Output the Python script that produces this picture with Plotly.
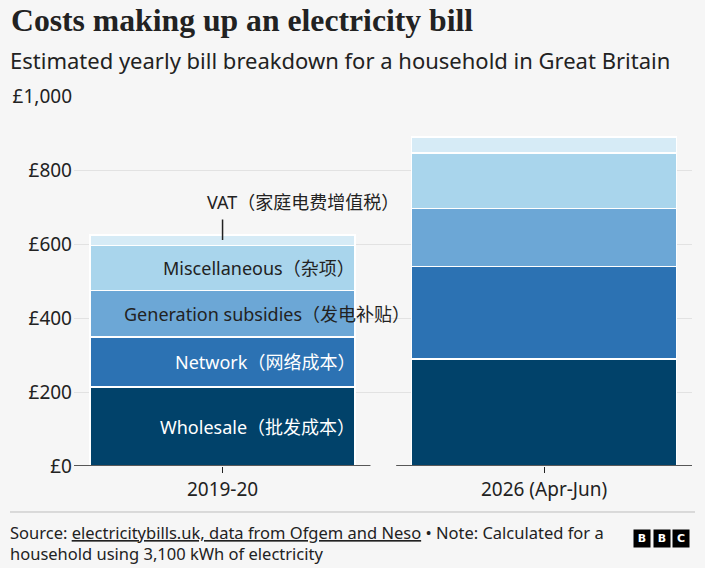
import plotly.graph_objects as go

categories = ["2019-20", "2026 (Apr-Jun)"]
series_names = ["Wholesale", "Network", "Generation subsidies", "Miscellaneous", "VAT"]
wholesale = [213, 289]
network = [135, 250]
generation = [126, 157]
miscellaneous = [122, 150]
vat = [29, 43]
label_texts = ["Wholesale（批发成本）", "Network（网络成本）", "Generation subsidies（发电补贴）",
               "Miscellaneous（杂项）", "VAT（家庭电费增值税）"]
y_tickvals = [0, 200, 400, 600, 800, 1000]
y_ticktext = ["£0", "£200", "£400", "£600", "£800", "£1,000"]

colors = ["#01426a", "#2c72b3", "#6ca7d6", "#a9d5ec", "#d6ebf6"]
SANS = "Noto Sans, Noto Sans CJK SC, sans-serif"
BG = "#f6f6f6"
W, H = 705, 568
ML, MR, MT, MB = 74, 13, 96, 102
PW, PH = W - ML - MR, H - MT - MB


def px(X):
    return (X - ML) / PW


def py(Y):
    return (H - MB - Y) / PH


series = [wholesale, network, generation, miscellaneous, vat]
fig = go.Figure()
for name, vals, col in zip(series_names, series, colors):
    fig.add_trace(go.Bar(x=categories, y=vals, name=name, marker_color=col,
                         marker_line_color="white", marker_line_width=1.5,
                         hoverinfo="skip"))

bargap = 0.176
half = (1 - bargap) / 2
annotations = []
# In-bar labels for first bar
cum = 0
text_colors = ["white", "white", "#222222", "#222222"]
xshifts = [2, 2, 57, 2]
for i in range(4):
    v = series[i][0]
    mid = cum + v / 2
    cum += v
    annotations.append(dict(x=0 + half, y=mid, xref="x", yref="y", text=label_texts[i],
                             showarrow=False, xanchor="right", yanchor="middle",
                             xshift=xshifts[i],
                             font=dict(family=SANS, size=18, color=text_colors[i])))
# VAT callout
vat_mid = cum + vat[0] / 2
annotations.append(dict(x=0, y=vat_mid, xref="x", yref="y", text="", showarrow=True,
                        ax=0, ay=-22, arrowhead=0, arrowwidth=1.5, arrowcolor="#222222",
                        standoff=0, startstandoff=0))
annotations.append(dict(x=0, y=vat_mid, xref="x", yref="y", text=label_texts[4],
                        showarrow=False, xanchor="left", yanchor="middle",
                        xshift=-18, yshift=38,
                        font=dict(family=SANS, size=18, color="#222222")))

# Titles
annotations.append(dict(x=px(9), y=py(20), xref="paper", yref="paper",
                        text="<b>Costs making up an electricity bill</b>", showarrow=False,
                        xanchor="left", yanchor="middle",
                        font=dict(family="Liberation Serif, serif", size=31.7, color="#222222")))
annotations.append(dict(x=px(8), y=py(60), xref="paper", yref="paper",
                        text="Estimated yearly bill breakdown for a household in Great Britain",
                        showarrow=False, xanchor="left", yanchor="middle",
                        font=dict(family=SANS, size=22, color="#222222")))
# Footer
annotations.append(dict(x=px(8), y=py(519), xref="paper", yref="paper",
                        text="Source: <span style='text-decoration:underline'>electricitybills.uk, data from Ofgem and Neso</span> • Note: Calculated for a<br>household using 3,100 kWh of electricity",
                        showarrow=False, xanchor="left", yanchor="top", align="left",
                        font=dict(family=SANS, size=16.5, color="#222222")))
for k, letter in enumerate(["B", "B", "C"]):
    annotations.append(dict(x=px(642 + 19.5 * k), y=py(538), xref="paper", yref="paper",
                            text="<b>" + letter + "</b>", showarrow=False,
                            xanchor="center", yanchor="middle", width=16, height=17,
                            borderpad=0, bgcolor="black",
                            font=dict(family="DejaVu Sans, sans-serif", size=11, color="white")))

shapes = [
    dict(type="line", xref="x", yref="y", x0=-0.5 + 0.038, x1=0.5 - 0.04, y0=0, y1=0,
         line=dict(color="#222222", width=1.5)),
    dict(type="line", xref="x", yref="y", x0=0.5 + 0.04, x1=1.5 - 0.04, y0=0, y1=0,
         line=dict(color="#222222", width=1.5)),
    dict(type="line", xref="paper", yref="paper", x0=px(10), x1=px(695), y0=py(512), y1=py(512),
         line=dict(color="#bdbdbd", width=1)),
]

fig.update_layout(
    barmode="stack", bargap=bargap, showlegend=False,
    width=W, height=H, margin=dict(l=ML, r=MR, t=MT, b=MB, pad=0),
    paper_bgcolor=BG, plot_bgcolor=BG,
    annotations=annotations, shapes=shapes,
    xaxis=dict(type="category", range=[-0.462, 1.46], showgrid=False, zeroline=False,
               showline=False, ticks="outside", ticklen=6, tickcolor="#222222", tickwidth=1,
               tickfont=dict(family=SANS, size=19, color="#222222")),
    yaxis=dict(range=[0, 1000], tickvals=y_tickvals, ticktext=y_ticktext, showgrid=True,
               gridcolor="#e2e2e2", gridwidth=1, zeroline=False, showline=False, ticks="",
               ticklabelstandoff=1,
               tickfont=dict(family=SANS, size=19, color="#222222")),
)

fig.write_html("out.html")
